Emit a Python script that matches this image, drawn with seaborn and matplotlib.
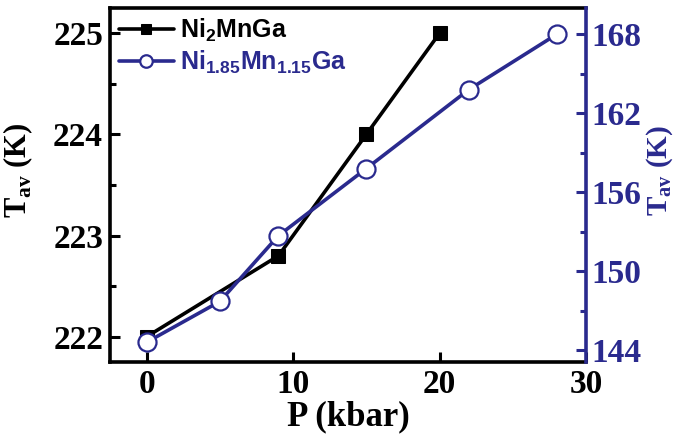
import matplotlib
matplotlib.use("Agg")
import matplotlib.pyplot as plt
import seaborn as sns
import pandas as pd
from matplotlib.ticker import MultipleLocator

# Data
p_ni2 = [0, 9, 15, 20]
t_ni2 = [222.0, 222.8, 224.0, 225.0]
p_ni185 = [0, 5, 9, 15, 22, 28]
t_ni185 = [144.6, 147.7, 152.7, 157.8, 163.8, 168.0]
label_ni2 = r"Ni$_\mathbf{2}$MnGa"
label_ni185 = r"Ni$_\mathbf{1.85}$Mn$_\mathbf{1.15}$Ga"

sns.set_theme(style="white")
plt.rcParams['font.family'] = ['Liberation Serif', 'DejaVu Serif']
plt.rcParams['mathtext.fontset'] = 'custom'
plt.rcParams['mathtext.rm'] = 'Liberation Serif:bold'
plt.rcParams['mathtext.bf'] = 'Liberation Sans:bold'
plt.rcParams['text.color'] = 'black'
plt.rcParams['axes.labelcolor'] = 'black'

BLUE = '#2a2a8e'

df1 = pd.DataFrame({'P': p_ni2, 'T': t_ni2})
df2 = pd.DataFrame({'P': p_ni185, 'T': t_ni185})

fig = plt.figure(figsize=(6.74, 4.46), dpi=100)
ax = fig.add_axes([110/674, 1 - 362/446, (586 - 110)/674, (362 - 8)/446])
ax2 = ax.twinx()

sns.lineplot(data=df1, x='P', y='T', ax=ax, color='black', lw=2.6,
             marker='s', markersize=10, markeredgecolor='black', label=label_ni2, legend=False)
sns.lineplot(data=df2, x='P', y='T', ax=ax2, color=BLUE, lw=2.6,
             marker='o', markersize=13, markerfacecolor='white', markeredgecolor=BLUE,
             markeredgewidth=1.6, label=label_ni185, legend=False)

ax.set_xlim(-2.5, 30)
ax.set_ylim(221.75, 225.25)
ax2.set_ylim(143.1, 170.0)

ax.xaxis.set_major_locator(MultipleLocator(10))
ax.xaxis.set_minor_locator(MultipleLocator(5))
ax.yaxis.set_major_locator(MultipleLocator(1))
ax.yaxis.set_minor_locator(MultipleLocator(0.5))
ax2.set_yticks([144, 150, 156, 162, 168])
ax2.yaxis.set_minor_locator(MultipleLocator(3))

ax.tick_params(axis='both', which='both', direction='in', width=2.2, colors='black', pad=5)
ax.tick_params(which='major', length=7)
ax.tick_params(which='minor', length=4)
ax.tick_params(left=True, bottom=True)
for lab in ax.get_xticklabels() + ax.get_yticklabels():
    lab.set_fontsize(24); lab.set_fontweight('bold'); lab.set_color('black')
ax2.tick_params(axis='y', which='both', direction='in', width=2.2, colors=BLUE, pad=4, right=True)
ax2.tick_params(which='major', length=7)
ax2.tick_params(which='minor', length=4)
for lab in ax2.get_yticklabels():
    lab.set_fontsize(24); lab.set_fontweight('bold'); lab.set_color(BLUE)

for s in ['left', 'bottom', 'top']:
    ax.spines[s].set_linewidth(2.6)
    ax.spines[s].set_color('black')
ax2.spines['right'].set_color(BLUE)
ax2.spines['right'].set_linewidth(2.6)
for s in ['left', 'bottom', 'top']:
    ax2.spines[s].set_visible(False)
ax.spines['right'].set_visible(False)

ax.set_xlabel('P (kbar)', fontsize=25, fontweight='bold', labelpad=0, color='black')
ax.set_ylabel(r'T$_\mathrm{av}$ (K)', fontsize=22, fontweight='bold', color='black')
ax2.set_ylabel(r'T$_\mathrm{av}$ (K)', fontsize=21, fontweight='bold', color=BLUE)
ax.yaxis.set_label_coords(-0.158, 0.54)
ax2.yaxis.set_label_coords(1.122, 0.54)

h1, l1 = ax.get_legend_handles_labels()
h2, l2 = ax2.get_legend_handles_labels()
leg = ax.legend(h1 + h2, l1 + l2, loc='upper left', frameon=False,
                prop={'family': 'Liberation Sans', 'weight': 'bold', 'size': 18},
                handlelength=2.2, handletextpad=0.25, borderaxespad=0.1, labelspacing=0.2,
                borderpad=0.25)
leg.get_texts()[1].set_color(BLUE)
leg.legend_handles[0].set_markersize(7)
leg.legend_handles[1].set_markersize(9)

fig.savefig('out.png', dpi=100)
